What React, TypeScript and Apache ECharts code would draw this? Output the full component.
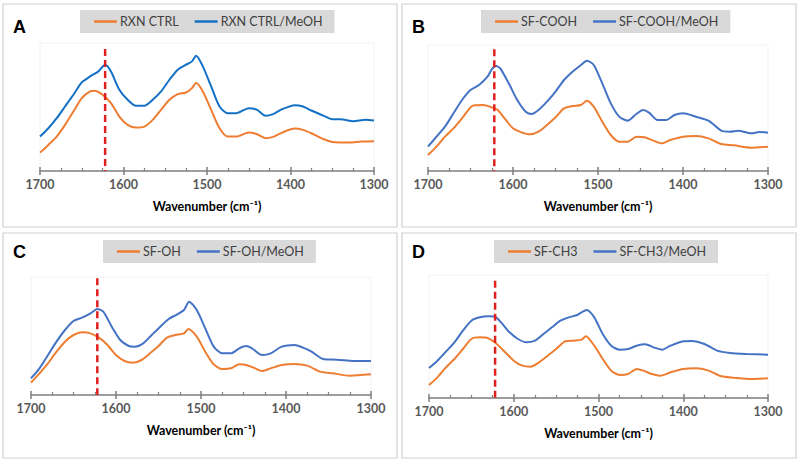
import React, { useEffect, useRef } from "react";
import * as echarts from "echarts";

// ---------- data (arbitrary absorbance units) ----------
const markWn = 1622;
const xTickMin = 1300;
const xTickMax = 1700;
const axisName = "Wavenumber (cm\u207B\u00B9)";

// Panel A
const wnA1 = [1700,1690,1680,1670,1660,1650,1640,1635,1625,1615,1605,1595,1585,1575,1565,1555,1545,1535,1525,1518,1513,1505,1495,1485,1475,1465,1450,1440,1430,1420,1410,1395,1385,1375,1360,1350,1330,1315,1300];
const ctrlA = [0.062,0.085,0.110,0.145,0.185,0.225,0.245,0.247,0.235,0.210,0.170,0.145,0.137,0.140,0.160,0.190,0.220,0.237,0.242,0.255,0.270,0.245,0.190,0.135,0.110,0.110,0.122,0.117,0.105,0.110,0.122,0.134,0.130,0.120,0.102,0.094,0.092,0.095,0.096];
const wnA2 = [1700,1690,1680,1670,1660,1650,1640,1630,1622,1615,1605,1595,1585,1575,1565,1555,1545,1535,1525,1518,1513,1505,1495,1485,1475,1465,1450,1440,1430,1420,1410,1395,1385,1375,1360,1350,1340,1325,1310,1300];
const meohA = [0.110,0.135,0.165,0.200,0.235,0.272,0.290,0.305,0.325,0.305,0.250,0.220,0.202,0.202,0.220,0.245,0.280,0.310,0.325,0.335,0.352,0.320,0.260,0.200,0.180,0.180,0.195,0.190,0.172,0.178,0.192,0.204,0.200,0.188,0.172,0.162,0.162,0.156,0.160,0.158];

// Panel B
const wnB1 = [1700,1690,1680,1670,1660,1650,1645,1635,1625,1618,1610,1600,1590,1580,1570,1560,1550,1540,1530,1520,1513,1505,1495,1485,1475,1465,1455,1445,1435,1425,1415,1400,1385,1370,1355,1340,1320,1300];
const ctrlB = [0.055,0.080,0.110,0.135,0.165,0.198,0.204,0.205,0.198,0.190,0.165,0.135,0.123,0.117,0.125,0.145,0.168,0.195,0.202,0.205,0.218,0.200,0.155,0.115,0.095,0.095,0.110,0.108,0.098,0.090,0.100,0.110,0.112,0.105,0.088,0.084,0.077,0.080];
const wnB2 = [1700,1690,1680,1670,1660,1650,1640,1630,1625,1620,1615,1605,1595,1585,1578,1570,1560,1550,1540,1530,1520,1513,1505,1495,1485,1475,1465,1455,1447,1440,1430,1420,1410,1400,1385,1370,1355,1345,1335,1320,1310,1300];
const meohB = [0.080,0.110,0.140,0.180,0.220,0.250,0.265,0.290,0.312,0.322,0.315,0.270,0.220,0.185,0.178,0.190,0.215,0.245,0.280,0.305,0.325,0.338,0.325,0.270,0.210,0.170,0.158,0.178,0.190,0.182,0.160,0.160,0.175,0.180,0.170,0.158,0.128,0.125,0.128,0.120,0.124,0.122];

// Panel C
const wnC1 = [1700,1690,1680,1670,1660,1650,1640,1630,1620,1610,1600,1590,1580,1570,1560,1550,1540,1530,1520,1515,1505,1495,1485,1475,1465,1455,1447,1438,1428,1418,1405,1390,1375,1360,1345,1325,1300];
const ctrlC = [0.067,0.095,0.125,0.160,0.190,0.210,0.218,0.215,0.202,0.180,0.150,0.132,0.127,0.135,0.155,0.177,0.202,0.210,0.215,0.228,0.205,0.160,0.122,0.108,0.110,0.122,0.120,0.112,0.102,0.110,0.120,0.123,0.118,0.100,0.095,0.088,0.092];
const wnC2 = [1700,1690,1680,1670,1660,1650,1640,1630,1622,1615,1605,1595,1585,1578,1568,1558,1548,1538,1528,1520,1514,1505,1495,1485,1475,1465,1455,1447,1440,1428,1418,1405,1390,1380,1370,1355,1340,1320,1300];
const meohC = [0.080,0.110,0.150,0.190,0.225,0.252,0.262,0.275,0.288,0.280,0.235,0.195,0.177,0.175,0.185,0.210,0.235,0.258,0.272,0.285,0.310,0.285,0.230,0.175,0.155,0.155,0.170,0.177,0.170,0.150,0.155,0.175,0.180,0.172,0.160,0.137,0.136,0.132,0.132];

// Panel D
const wnD1 = [1700,1690,1680,1670,1660,1650,1640,1630,1620,1610,1600,1590,1580,1570,1560,1550,1540,1530,1520,1515,1505,1495,1485,1475,1465,1455,1447,1437,1427,1415,1400,1385,1370,1355,1340,1320,1300];
const ctrlD = [0.062,0.085,0.115,0.140,0.170,0.200,0.205,0.202,0.185,0.160,0.135,0.120,0.117,0.130,0.150,0.170,0.192,0.195,0.198,0.208,0.180,0.140,0.105,0.092,0.095,0.110,0.105,0.095,0.090,0.100,0.110,0.112,0.105,0.088,0.084,0.080,0.082];
const wnD2 = [1700,1690,1680,1670,1660,1650,1640,1630,1622,1615,1605,1595,1585,1575,1565,1555,1545,1535,1525,1520,1514,1505,1495,1485,1475,1465,1455,1445,1435,1425,1415,1400,1390,1375,1360,1345,1325,1300];
const meohD = [0.113,0.135,0.162,0.190,0.225,0.255,0.265,0.268,0.267,0.250,0.220,0.200,0.190,0.195,0.215,0.235,0.255,0.265,0.272,0.280,0.287,0.265,0.215,0.180,0.168,0.170,0.180,0.184,0.175,0.168,0.180,0.193,0.194,0.185,0.165,0.158,0.155,0.153];

const panelLetters = ["A", "B", "C", "D"];
const namesCtrl = ["RXN CTRL", "SF-COOH", "SF-OH", "SF-CH3"];
const namesMeoh = ["RXN CTRL/MeOH", "SF-COOH/MeOH", "SF-OH/MeOH", "SF-CH3/MeOH"];
const wnCtrl = [wnA1, wnB1, wnC1, wnD1];
const valCtrl = [ctrlA, ctrlB, ctrlC, ctrlD];
const wnMeoh = [wnA2, wnB2, wnC2, wnD2];
const valMeoh = [meohA, meohB, meohC, meohD];
const yMins = [0.007, 0.007, 0.03, 0.023];
const yMaxs = [0.39, 0.385, 0.384, 0.392];
const markTops = [0.372, 0.372, 0.38, 0.375];

// ---------- layout / style ----------
const grids = [
  { left: 40, top: 43, width: 334, height: 128 },
  { left: 428, top: 45, width: 340, height: 126 },
  { left: 31, top: 277, width: 340, height: 118 },
  { left: 429, top: 275, width: 339, height: 123 },
];
const legendPos = [
  { left: 80, top: 10 },
  { left: 481, top: 10 },
  { left: 103, top: 240 },
  { left: 494, top: 240 },
];
const frames = [
  { x: 3, y: 4, width: 394, height: 223 },
  { x: 402, y: 4, width: 394, height: 223 },
  { x: 3, y: 233, width: 394, height: 225 },
  { x: 402, y: 233, width: 394, height: 225 },
];
const letterPos = [
  { x: 13, y: 18 },
  { x: 412, y: 18 },
  { x: 13, y: 243 },
  { x: 412, y: 243 },
];
const orange = "#ED7D31";
const blues = ["#1470C4", "#4472C4", "#4472C4", "#4472C4"];
const red = "#E0201F";
const axisGray = "#7F7F7F";
const FONT = "Lato";

const zip = (xs: number[], ys: number[]) => xs.map((x, i) => [x, ys[i]]);

export default function App() {
  const ref = useRef<HTMLDivElement>(null);
  useEffect(() => {
    if (!ref.current) return;
    const chart = echarts.init(ref.current, null, { renderer: "svg" });

    const xAxes: any[] = [];
    const yAxes: any[] = [];
    const series: any[] = [];
    const legends: any[] = [];

    for (let i = 0; i < 4; i++) {
      xAxes.push({
        type: "value",
        gridIndex: i,
        position: "bottom",
        min: xTickMin,
        max: xTickMax,
        interval: 100,
        inverse: true,
        axisLine: { show: true, onZero: false, lineStyle: { color: axisGray, width: 1.5 } },
        axisTick: { show: true, inside: true, length: 4, lineStyle: { color: axisGray, width: 1.5 } },
        minorTick: { show: true, splitNumber: 4, length: 3, lineStyle: { color: axisGray, width: 1.2 } },
        splitLine: { show: false },
        minorSplitLine: { show: false },
        axisLabel: {
          color: "#595959",
          fontSize: 12.5,
          fontWeight: "bold",
          fontFamily: FONT,
          margin: 7,
          formatter: (v: number) => String(v),
        },
        name: axisName,
        nameLocation: "middle",
        nameGap: 29,
        nameTextStyle: { color: "#000", fontSize: 12.5, fontWeight: "bold", fontFamily: FONT },
      });
    }
    for (let i = 0; i < 4; i++) {
      xAxes.push({
        type: "value",
        gridIndex: i,
        position: "bottom",
        min: xTickMin,
        max: xTickMax,
        interval: 100,
        inverse: true,
        axisLine: { show: false, onZero: false },
        axisTick: { show: true, inside: false, length: 4, lineStyle: { color: axisGray, width: 1.5 } },
        axisLabel: { show: false },
        splitLine: { show: false },
      });
    }
    for (let i = 0; i < 4; i++) {
      yAxes.push({ type: "value", gridIndex: i, min: yMins[i], max: yMaxs[i], show: false });
      series.push({
        name: namesCtrl[i],
        type: "line",
        xAxisIndex: i,
        yAxisIndex: i,
        data: zip(wnCtrl[i], valCtrl[i]),
        showSymbol: false,
        smooth: 0.25,
        lineStyle: { color: orange, width: 2 },
        itemStyle: { color: orange },
        z: 2,
      });
      series.push({
        name: namesMeoh[i],
        type: "line",
        xAxisIndex: i,
        yAxisIndex: i,
        data: zip(wnMeoh[i], valMeoh[i]),
        showSymbol: false,
        smooth: 0.25,
        lineStyle: { color: blues[i], width: 2 },
        itemStyle: { color: blues[i] },
        z: 2,
      });
      series.push({
        name: "marker" + i,
        type: "line",
        xAxisIndex: i,
        yAxisIndex: i,
        data: [
          [markWn, markTops[i]],
          [markWn, yMins[i]],
        ],
        showSymbol: false,
        symbol: "none",
        silent: true,
        lineStyle: { color: red, width: 2.5, type: [7, 4] },
        itemStyle: { color: red },
        emphasis: { disabled: true },
        z: 5,
      });
      legends.push({
        data: [namesCtrl[i], namesMeoh[i]],
        left: legendPos[i].left,
        top: legendPos[i].top,
        orient: "horizontal",
        backgroundColor: "#D9D9D9",
        borderRadius: 0,
        padding: [5, 12, 5, 14],
        itemGap: 16,
        itemWidth: 23,
        itemHeight: 2.5,
        icon: "rect",
        textStyle: { color: "#404040", fontSize: 12.5, fontFamily: FONT, padding: [0, 0, 0, -2] },
      });
    }

    const graphics: any[] = [];
    for (let i = 0; i < 4; i++) {
      graphics.push({
        type: "rect",
        shape: { ...frames[i] },
        style: { fill: "none", stroke: "#D0D0D0", lineWidth: 1.2 },
        silent: true,
      });
      graphics.push({
        type: "text",
        x: letterPos[i].x,
        y: letterPos[i].y,
        style: {
          text: panelLetters[i],
          fontSize: 18,
          fontWeight: "bold",
          fontFamily: "Liberation Sans",
          fill: "#000",
        },
        silent: true,
      });
    }

    chart.setOption({
      animation: false,
      backgroundColor: "#fff",
      grid: grids.map((g) => ({ ...g, show: true, borderColor: "#F2F2F2", borderWidth: 1 })),
      xAxis: xAxes,
      yAxis: yAxes,
      legend: legends,
      series,
      graphic: graphics,
    });
    return () => chart.dispose();
  }, []);

  return (
    <div
      ref={ref}
      style={{ position: "absolute", left: 0, top: 0, width: 800, height: 464 }}
    />
  );
}
